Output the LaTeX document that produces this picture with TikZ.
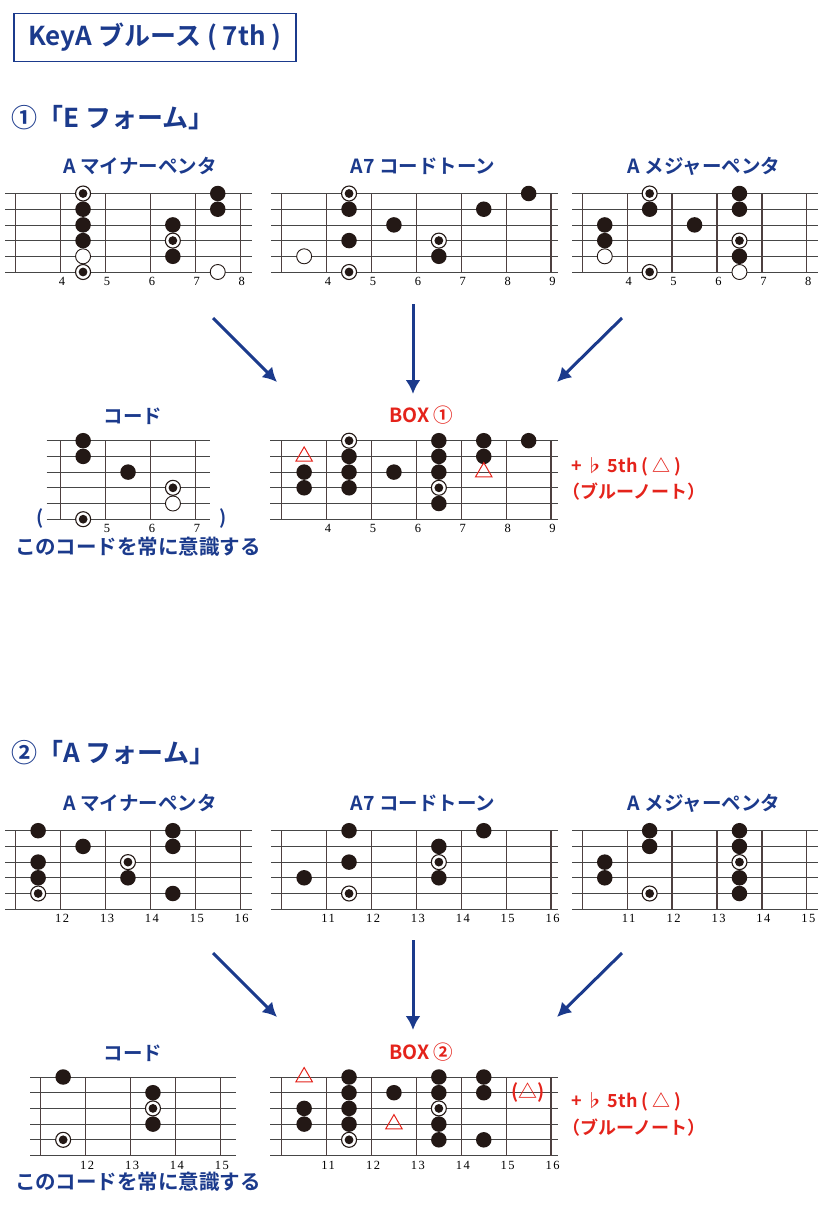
\documentclass[tikz,border=0pt]{standalone}
\usepackage{fontspec}
\setmainfont{Noto Sans CJK JP}[BoldFont={* Bold}]
\newfontfamily\numfont{Liberation Serif}[LetterSpace=12]
\usetikzlibrary{arrows.meta, positioning, shapes.geometric}

\definecolor{keyblue}{RGB}{27,58,140}
\definecolor{keyred}{RGB}{228,35,27}
\definecolor{dotc}{RGB}{35,24,21}
\definecolor{fretc}{RGB}{78,64,64}

% strings and frets of one board
\newcommand{\board}[6]{%
    \foreach \s in {0,...,5}
        \draw[gstring] (#2,#4+\s*15.7) -- (#3,#4+\s*15.7);
    \foreach \k/\n in {#6} {
        \draw[fret] (#5+\k*44.9,#4) -- (#5+\k*44.9,#4+78.5);
        \node[fretnum] (#1-f\k) at (#5+\k*44.9+1.5,#4+88) {\n};
    }
}
% marks on a board: column/string/style
\newcommand{\notes}[4]{%
    \foreach \c/\s/\ty in {#4}
        \node[\ty] (#1-\c-\s) at (#2+\c*44.9-22.45,#3+\s*15.7-15.7) {};
}

\begin{document}
\begin{tikzpicture}[
        x=1pt, y=-1pt,
        gstring/.style={draw=gray!55!black, line width=0.8pt},
        fret/.style={draw=fretc, line width=1.3pt},
        fretnum/.style={font=\numfont\fontsize{12.5}{12.5}\selectfont, inner sep=0pt},
        fdot/.style={circle, fill=dotc, minimum size=15.5pt, inner sep=0pt},
        odot/.style={circle, draw=dotc, line width=0.9pt, fill=white, minimum size=15pt, inner sep=0pt},
        rdot/.style={circle, draw=dotc, line width=1.1pt, fill=white, minimum size=15pt, inner sep=0pt,
            path picture={\fill[dotc] (path picture bounding box.center) circle (4.4pt);}},
        tri/.style={regular polygon, regular polygon sides=3, draw=keyred, line width=1pt, minimum size=19pt, inner sep=0pt},
        heading/.style={text=keyblue, font=\fontsize{26}{26}\selectfont\bfseries, inner sep=0pt},
        boardtitle/.style={text=keyblue, font=\fontsize{19.5}{19.5}\selectfont\bfseries, inner sep=0pt},
        boxtitle/.style={text=keyred, font=\fontsize{19.5}{19.5}\selectfont\bfseries, inner sep=0pt},
        bluenote/.style={text=keyred, font=\fontsize{18}{18}\selectfont\bfseries, anchor=west, inner sep=0pt},
        remind/.style={text=keyblue, font=\fontsize{20.5}{20.5}\selectfont\bfseries, inner sep=0pt},
        flow/.style={-{Latex[length=14pt, width=15pt]}, draw=keyblue, line width=3pt},
    ]
        \useasboundingbox (0,0) rectangle (835,1221);

        \node[heading, draw=keyblue, line width=1.4pt, minimum width=282pt, minimum height=48pt] (key) at (155,37.5) {KeyA ブルース ( 7th )};

        % E form
        \node[heading, anchor=west] (eform) at (11,118) {①「E フォーム」};
        \node[boardtitle] (t-mA1) at (140,166) {A マイナーペンタ};
        \node[boardtitle] (t-ct1) at (423,166) {A7 コードトーン};
        \node[boardtitle] (t-MA1) at (704,166) {A メジャーペンタ};

        \board{mA1}{5}{252}{193.5}{15.7}{0/,1/4,2/5,3/6,4/7,5/8}
        \board{ct1}{271}{558}{193.5}{281.7}{0/,1/4,2/5,3/6,4/7,5/8,6/9}
        \board{MA1}{572}{818}{193.5}{582.3}{0/,1/4,2/5,3/6,4/7,5/8}
        \notes{mA1}{15.7}{193.5}{2/1/rdot,2/2/fdot,2/3/fdot,2/4/fdot,2/5/odot,2/6/rdot,4/3/fdot,4/4/rdot,4/5/fdot,5/1/fdot,5/2/fdot,5/6/odot}
        \notes{ct1}{281.7}{193.5}{1/5/odot,2/1/rdot,2/2/fdot,2/4/fdot,2/6/rdot,3/3/fdot,4/4/rdot,4/5/fdot,5/2/fdot,6/1/fdot}
        \notes{MA1}{582.3}{193.5}{1/3/fdot,1/4/fdot,1/5/odot,2/1/rdot,2/2/fdot,2/6/rdot,3/3/fdot,4/1/fdot,4/2/fdot,4/4/rdot,4/5/fdot,4/6/odot}

        \coordinate (a1s) at (213,318);
        \coordinate (a1e) at (277,382);
        \coordinate (a2s) at (413,304);
        \coordinate (a2e) at (413,394);
        \coordinate (a3s) at (622,318);
        \coordinate (a3e) at (557,382);
        \draw[flow] (a1s) -- (a1e);
        \draw[flow] (a2s) -- (a2e);
        \draw[flow] (a3s) -- (a3e);

        \node[boardtitle] (t-ch1) at (133,416.5) {コード};
        \node[boxtitle] (t-bx1) at (421.5,415.5) {BOX ①};
        \board{ch1}{46.7}{210}{440.7}{60.7}{0/,1/5,2/6,3/7}
        \board{bx1}{270}{558}{440.7}{281.7}{0/,1/4,2/5,3/6,4/7,5/8,6/9}
        \notes{ch1}{60.7}{440.7}{1/1/fdot,1/2/fdot,1/6/rdot,2/3/fdot,3/4/rdot,3/5/odot}
        \notes{bx1}{281.7}{440.7}{1/2/tri,1/3/fdot,1/4/fdot,2/1/rdot,2/2/fdot,2/3/fdot,2/4/fdot,3/3/fdot,4/1/fdot,4/2/fdot,4/3/fdot,4/4/rdot,4/5/fdot,5/1/fdot,5/2/fdot,5/3/tri,6/1/fdot}
        \node[text=keyblue, font=\fontsize{19}{19}\selectfont\bfseries] (lp1) at (40,518) {(};
        \node[text=keyblue, font=\fontsize{19}{19}\selectfont\bfseries] (rp1) at (223,518) {)};
        \node[remind] (rm1) at (138,546.5) {このコードを常に意識する};
        \node[bluenote] (bn1a) at (571,466.5) {+ ♭ 5th ( △ )};
        \node[bluenote] (bn1b) at (562,492) {（ブルーノート）};

        % A form
        \node[heading, anchor=west] (aform) at (11,753) {②「A フォーム」};
        \node[boardtitle] (t-mA2) at (140,803) {A マイナーペンタ};
        \node[boardtitle] (t-ct2) at (423,803) {A7 コードトーン};
        \node[boardtitle] (t-MA2) at (704,803) {A メジャーペンタ};

        \board{mA2}{5}{252}{830.7}{15.7}{0/,1/12,2/13,3/14,4/15,5/16}
        \board{ct2}{271}{558}{830.7}{281.7}{0/,1/11,2/12,3/13,4/14,5/15,6/16}
        \board{MA2}{572}{818}{830.7}{582.3}{0/,1/11,2/12,3/13,4/14,5/15}
        \notes{mA2}{15.7}{830.7}{1/1/fdot,1/3/fdot,1/4/fdot,1/5/rdot,2/2/fdot,3/3/rdot,3/4/fdot,4/1/fdot,4/2/fdot,4/5/fdot}
        \notes{ct2}{281.7}{830.7}{1/4/fdot,2/1/fdot,2/3/fdot,2/5/rdot,4/2/fdot,4/3/rdot,4/4/fdot,5/1/fdot}
        \notes{MA2}{582.3}{830.7}{1/3/fdot,1/4/fdot,2/1/fdot,2/2/fdot,2/5/rdot,4/1/fdot,4/2/fdot,4/3/rdot,4/4/fdot,4/5/fdot}

        \coordinate (b1s) at (213,953);
        \coordinate (b1e) at (277,1017);
        \coordinate (b2s) at (413,940);
        \coordinate (b2e) at (413,1030);
        \coordinate (b3s) at (622,953);
        \coordinate (b3e) at (557,1017);
        \draw[flow] (b1s) -- (b1e);
        \draw[flow] (b2s) -- (b2e);
        \draw[flow] (b3s) -- (b3e);

        \node[boardtitle] (t-ch2) at (133,1053) {コード};
        \node[boxtitle] (t-bx2) at (421.5,1052) {BOX ②};
        \board{ch2}{30}{236}{1077}{40.7}{0/,1/12,2/13,3/14,4/15}
        \board{bx2}{270}{558}{1077}{281.7}{0/,1/11,2/12,3/13,4/14,5/15,6/16}
        \notes{ch2}{40.7}{1077}{1/1/fdot,1/5/rdot,3/2/fdot,3/3/rdot,3/4/fdot}
        \notes{bx2}{281.7}{1077}{1/1/tri,1/3/fdot,1/4/fdot,2/1/fdot,2/2/fdot,2/3/fdot,2/4/fdot,2/5/rdot,3/2/fdot,3/4/tri,4/1/fdot,4/2/fdot,4/3/rdot,4/4/fdot,4/5/fdot,5/1/fdot,5/2/fdot,5/5/fdot}
        \node[text=keyred, font=\fontsize{19}{19}\selectfont\bfseries, inner sep=0pt] (bx2-6-2) at (527.7,1092.4) {(△)};
        \node[remind] (rm2) at (138,1181.5) {このコードを常に意識する};
        \node[bluenote] (bn2a) at (571,1102) {+ ♭ 5th ( △ )};
        \node[bluenote] (bn2b) at (562,1128) {（ブルーノート）};
    \end{tikzpicture}
\end{document}
